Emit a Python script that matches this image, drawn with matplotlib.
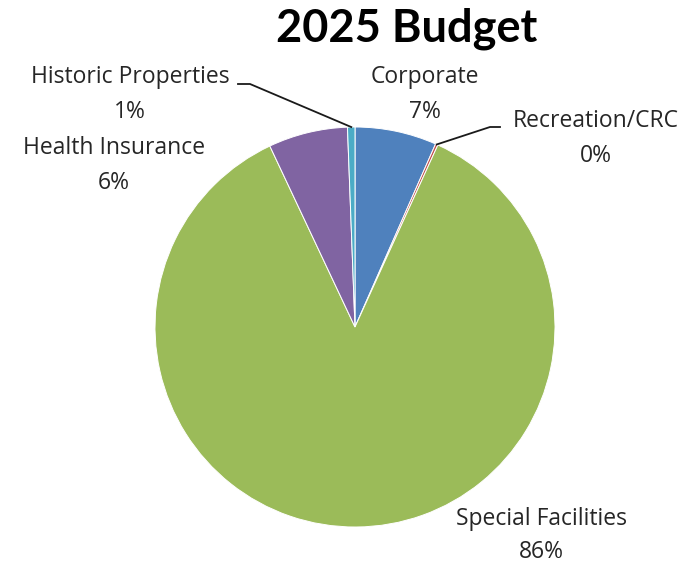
import numpy as np
import matplotlib
matplotlib.use("Agg")
import matplotlib.pyplot as plt

# Budget shares (percent), clockwise from 12 o'clock
categories = ["Corporate", "Recreation/CRC", "Special Facilities",
              "Health Insurance", "Historic Properties"]
shares = [6.6, 0.2, 86.2, 6.4, 0.6]
pct_labels = ["7%", "0%", "86%", "6%", "1%"]
colors = ["#4F81BD", "#C0504D", "#9BBB59", "#8064A2", "#4BACC6"]

plt.rcParams['font.family'] = ['Open Sans', 'DejaVu Sans']
txt_color = "#262626"

W, H = 689, 566
fig = plt.figure(figsize=(W / 100, H / 100), dpi=100)
ax = fig.add_axes([0, 0, 1, 1])

cx, cy, r = 355, H - 327, 200
wedges, _ = ax.pie(shares, colors=colors, startangle=90, counterclock=False,
                   center=(cx, cy), radius=r,
                   wedgeprops=dict(edgecolor="white", linewidth=0.7))
ax.set_xlim(0, W)
ax.set_ylim(0, H)
ax.set_aspect("equal")
ax.axis("off")


def edge_point(w):
    ang = np.deg2rad((w.theta1 + w.theta2) / 2)
    return cx + r * np.cos(ang), cy + r * np.sin(ang)


# label positions in pixel coords (from top), gap between name and percent
label_pos = {
    "Corporate": (425, 77, 35),
    "Recreation/CRC": (596, 121, 35),
    "Special Facilities": (541, 519, 33),
    "Health Insurance": (114, 148, 35),
    "Historic Properties": (130, 77, 35),
}
for name, pct in zip(categories, pct_labels):
    x, y, gap = label_pos[name]
    ax.text(x, H - y, name, ha="center", va="center", fontsize=16.5, color=txt_color)
    ax.text(x, H - y - gap, pct, ha="center", va="center", fontsize=16.5, color=txt_color)

# leader lines
ex, ey = edge_point(wedges[1])
ax.plot([ex, 490, 500], [ey, H - 127, H - 127], color="#1a1a1a", lw=1.3)
ex, ey = edge_point(wedges[4])
ax.plot([ex, 250, 238], [ey, H - 84, H - 84], color="#1a1a1a", lw=1.3)

ax.text(407, H - 29, "2025 Budget", ha="center", va="center",
        fontsize=32.5, fontweight="bold", color="black",
        family=['Lato', 'DejaVu Sans'])

fig.savefig("out.png", dpi=100)
